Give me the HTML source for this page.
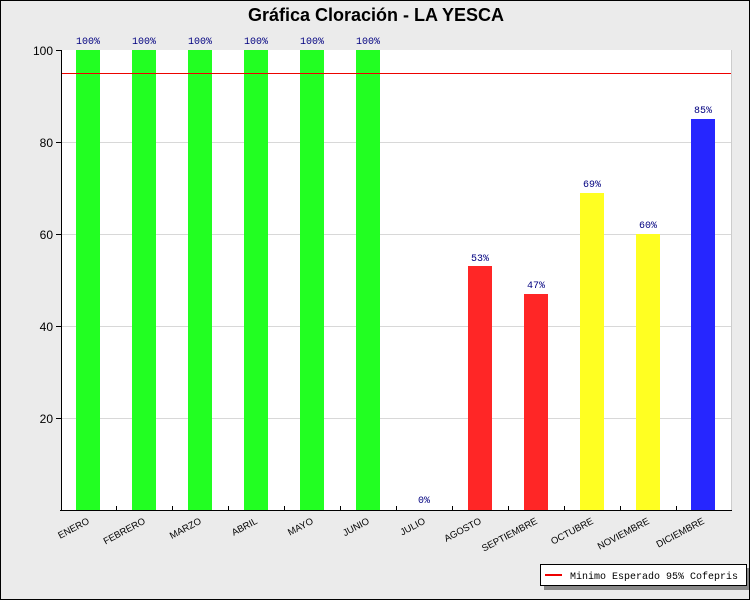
<!DOCTYPE html>
<html><head><meta charset="utf-8"><style>body{margin:0}svg{display:block}</style></head><body>
<svg width="750" height="600" xmlns="http://www.w3.org/2000/svg" font-family="Liberation Sans, sans-serif">
<rect x="0.5" y="0.5" width="749" height="599" fill="#ebebeb" stroke="#000"/>
<text x="376" y="21" text-anchor="middle" font-size="18" font-weight="bold">Gráfica Cloración - LA YESCA</text>
<rect x="61" y="50" width="670" height="460" fill="#fff"/>
<g stroke="#d8d8d8" stroke-width="1">
<line x1="61" y1="142.5" x2="731" y2="142.5"/><line x1="61" y1="234.5" x2="731" y2="234.5"/><line x1="61" y1="326.5" x2="731" y2="326.5"/><line x1="61" y1="418.5" x2="731" y2="418.5"/>
</g>
<g>
<rect x="76" y="50" width="24" height="460" fill="#22ff22"/>
<rect x="132" y="50" width="24" height="460" fill="#22ff22"/>
<rect x="188" y="50" width="24" height="460" fill="#22ff22"/>
<rect x="244" y="50" width="24" height="460" fill="#22ff22"/>
<rect x="300" y="50" width="24" height="460" fill="#22ff22"/>
<rect x="356" y="50" width="24" height="460" fill="#22ff22"/>
<rect x="468" y="266" width="24" height="244" fill="#ff2626"/>
<rect x="524" y="294" width="24" height="216" fill="#ff2626"/>
<rect x="580" y="193" width="24" height="317" fill="#ffff22"/>
<rect x="636" y="234" width="24" height="276" fill="#ffff22"/>
<rect x="691" y="119" width="24" height="391" fill="#2626ff"/>
</g>
<line x1="61" y1="73.5" x2="731" y2="73.5" stroke="#e00" stroke-width="1"/>
<g font-family="Liberation Mono, monospace" font-size="10" fill="#000080" text-anchor="middle">
<text x="88" y="44">100%</text><text x="144" y="44">100%</text><text x="200" y="44">100%</text><text x="256" y="44">100%</text><text x="312" y="44">100%</text><text x="368" y="44">100%</text><text x="424" y="503">0%</text><text x="480" y="261">53%</text><text x="536" y="288">47%</text><text x="592" y="187">69%</text><text x="648" y="228">60%</text><text x="703" y="113">85%</text>
</g>
<g stroke="#000"><line x1="61.5" y1="50" x2="61.5" y2="511"/><line x1="60" y1="510.5" x2="732" y2="510.5"/>
<line x1="56" y1="50.5" x2="61" y2="50.5"/><line x1="56" y1="142.5" x2="61" y2="142.5"/><line x1="56" y1="234.5" x2="61" y2="234.5"/><line x1="56" y1="326.5" x2="61" y2="326.5"/><line x1="56" y1="418.5" x2="61" y2="418.5"/>
<line x1="116.5" y1="506" x2="116.5" y2="510"/><line x1="172.5" y1="506" x2="172.5" y2="510"/><line x1="228.5" y1="506" x2="228.5" y2="510"/><line x1="284.5" y1="506" x2="284.5" y2="510"/><line x1="340.5" y1="506" x2="340.5" y2="510"/><line x1="396.5" y1="506" x2="396.5" y2="510"/><line x1="452.5" y1="506" x2="452.5" y2="510"/><line x1="508.5" y1="506" x2="508.5" y2="510"/><line x1="564.5" y1="506" x2="564.5" y2="510"/><line x1="620.5" y1="506" x2="620.5" y2="510"/><line x1="676.5" y1="506" x2="676.5" y2="510"/>
</g>
<line x1="731.5" y1="50" x2="731.5" y2="510" stroke="#ccc"/>
<g font-size="12" text-anchor="end"><text x="53" y="55">100</text><text x="53" y="147">80</text><text x="53" y="239">60</text><text x="53" y="331">40</text><text x="53" y="423">20</text></g>
<g font-size="9.5" text-anchor="end">
<text transform="translate(90,523) rotate(-28)">ENERO</text>
<text transform="translate(146,523) rotate(-28)">FEBRERO</text>
<text transform="translate(202,523) rotate(-28)">MARZO</text>
<text transform="translate(258,523) rotate(-28)">ABRIL</text>
<text transform="translate(314,523) rotate(-28)">MAYO</text>
<text transform="translate(370,523) rotate(-28)">JUNIO</text>
<text transform="translate(426,523) rotate(-28)">JULIO</text>
<text transform="translate(482,523) rotate(-28)">AGOSTO</text>
<text transform="translate(538,523) rotate(-28)">SEPTIEMBRE</text>
<text transform="translate(594,523) rotate(-28)">OCTUBRE</text>
<text transform="translate(650,523) rotate(-28)">NOVIEMBRE</text>
<text transform="translate(705,523) rotate(-28)">DICIEMBRE</text>
</g>
<rect x="544" y="568" width="205" height="22" fill="#888"/>
<rect x="540.5" y="564.5" width="206" height="21" fill="#fff" stroke="#000"/>
<line x1="545" y1="575" x2="562" y2="575" stroke="#e00" stroke-width="2"/>
<text x="570" y="579" font-family="Liberation Mono, monospace" font-size="10.5" textLength="168" lengthAdjust="spacingAndGlyphs">Minimo Esperado 95% Cofepris</text>
</svg>
</body></html>
